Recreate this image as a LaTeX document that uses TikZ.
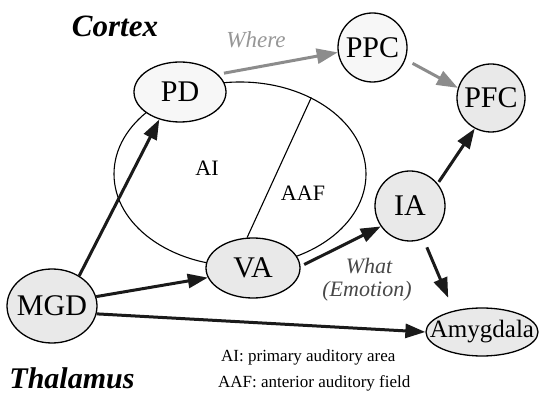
\documentclass[tikz,border=0pt]{standalone}
\usepackage{fontspec}
\setmainfont{Liberation Serif}
\usetikzlibrary{shapes.geometric,arrows.meta}
\newcommand\fsz[1]{\fontsize{#1}{#1}\selectfont}
\newcommand\lbl[1]{\makebox[0pt][c]{#1}}
\definecolor{nodegray}{HTML}{E9E9E9}
\definecolor{nodelight}{HTML}{F7F7F7}
\definecolor{arrgray}{HTML}{8C8C8C}
\definecolor{arrblack}{HTML}{1A1A1A}
\begin{document}
\begin{tikzpicture}[x=1pt,y=-1pt,
  region/.style={draw, ellipse, line width=1.1pt, inner sep=0pt},
  area/.style={draw, ellipse, line width=1.3pt, inner sep=0pt, fill=nodegray, font=\fsz{30}},
  roundarea/.style={draw, circle, line width=1.3pt, inner sep=0pt, fill=nodegray, font=\fsz{30}},
  arr/.style={line width=3pt, draw=arrblack, -{Triangle[length=20pt,width=14pt]}},
  garr/.style={line width=3pt, draw=arrgray, -{Triangle[length=21pt,width=15pt]}},
  title/.style={font=\fsz{31}\bfseries\itshape},
  pathlbl/.style={font=\fsz{22}\itshape},
  legend/.style={anchor=west, font=\fsz{17}, inner sep=0pt},
]
\useasboundingbox (0,0) rectangle (539,395);
\fill[white] (0,0) rectangle (539,395);

% auditory cortex region
\node[region, minimum width=252pt, minimum height=184pt] (AIreg) at (240,174) {};

% areas
\node[area, fill=nodelight, minimum width=92pt, minimum height=60pt] (PD) at (180,92) {\lbl{PD}};
\node[area, minimum width=94pt, minimum height=60pt] (VA) at (253,268) {\lbl{VA}};
\node[area, minimum width=90pt, minimum height=74pt] (MGD) at (52,306) {\lbl{MGD}};
\node[roundarea, fill=nodelight, minimum size=69pt] (PPC) at (372.5,47.5) {\lbl{PPC}};
\node[roundarea, minimum size=68pt] (PFC) at (491,98) {\lbl{PFC}};
\node[roundarea, minimum size=70pt] (IA) at (410,206) {\lbl{IA}};
\node[area, font=\fsz{25}, minimum width=112pt, minimum height=48pt] (Amyg) at (482,332) {\lbl{Amygdala}};

% divider AI / AAF
\draw[line width=1.1pt] (AIreg.47.4) -- (VA.101.3);

% labels
\node[title] (cortex) at (115,26) {Cortex};
\node[title, font=\fsz{30}\bfseries\itshape] (thal) at (72,378) {Thalamus};
\node[font=\fsz{22}] (ai) at (207,168) {AI};
\node[font=\fsz{22}] (aaf) at (303,193) {AAF};
\node[pathlbl, text=arrgray!90, font=\fsz{23}\itshape] (where) at (256,40) {Where};
\node[pathlbl, text=arrblack!80] (what) at (369,266) {What};
\node[pathlbl, text=arrblack!80] (emo) at (367,291) {(Emotion)};
\node[legend] (leg1) at (221,357) {AI: primary auditory area};
\node[legend] (leg2) at (218,383) {AAF: anterior auditory field};

% connections
\draw[arr] (MGD.48.6) -- (PD.233.4);
\draw[arr] (MGD.12.9) -- (VA.192.3);
\draw[arr] (MGD.-10.4) -- (Amyg.west);
\draw[arr, shorten <=4pt] (VA.2) -- (IA.215.7);
\draw[arr, shorten <=2pt] (IA.39) -- (PFC.242);
\draw[arr, shorten <=9pt, shorten >=14pt] (IA.292.5) -- (Amyg.143.7);
\draw[garr, shorten <=6pt] (PD.25) -- (PPC.188.8);
\draw[garr, shorten <=8pt] (PPC.340) -- (PFC.163);
\end{tikzpicture}
\end{document}
